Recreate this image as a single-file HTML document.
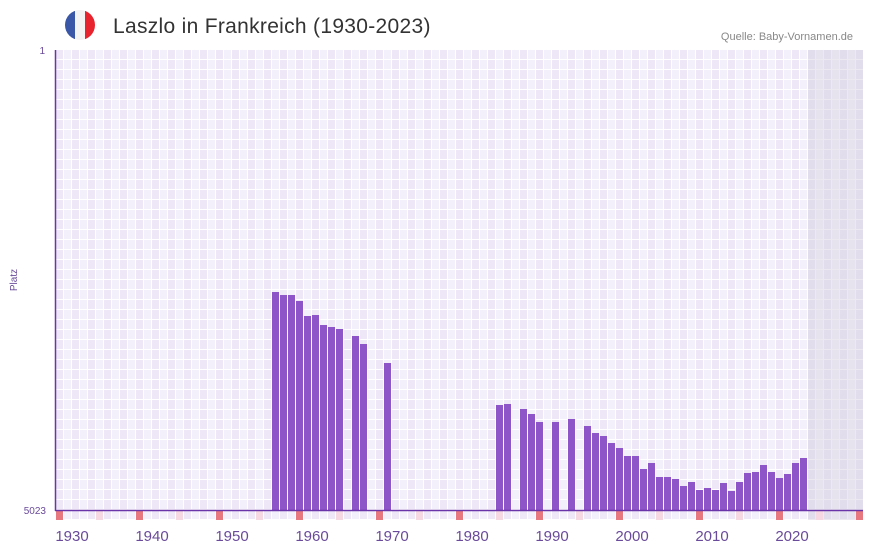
<!DOCTYPE html>
<html><head><meta charset="utf-8"><style>
body{margin:0;background:#fff;}
svg{display:block;font-family:"Liberation Sans","DejaVu Sans",sans-serif;}
</style></head><body>
<svg width="873" height="552" viewBox="0 0 873 552" xmlns="http://www.w3.org/2000/svg">
<defs>
<pattern id="g" x="56" y="50" width="16" height="10" patternUnits="userSpaceOnUse">
<rect x="0" y="0" width="16" height="10" fill="#fff"/>
<rect x="0" y="0" width="7" height="9" fill="#ede7f8"/>
<rect x="8" y="0" width="7" height="9" fill="#f3effb"/>
</pattern>
<pattern id="g2" x="56" y="50" width="16" height="10" patternUnits="userSpaceOnUse">
<rect x="0" y="0" width="16" height="10" fill="#ece9f0"/>
<rect x="0" y="0" width="7" height="9" fill="#e2ddec"/>
<rect x="8" y="0" width="7" height="9" fill="#e6e2ee"/>
</pattern>
<clipPath id="fc"><circle cx="80" cy="25" r="15"/></clipPath>
</defs>
<g clip-path="url(#fc)">
<rect x="65" y="10" width="10" height="30" fill="#3a56a6"/>
<rect x="75" y="10" width="10" height="30" fill="#f3f3f3"/>
<rect x="85" y="10" width="10" height="30" fill="#e8232d"/>
</g>
<text x="113" y="33" font-size="21" letter-spacing="0.3" fill="#333">Laszlo in Frankreich (1930-2023)</text>
<text x="853" y="40" font-size="11" fill="#888" text-anchor="end">Quelle: Baby-Vornamen.de</text>

<rect x="56" y="50" width="807" height="470" fill="url(#g)"/>
<rect x="808" y="50" width="55" height="470" fill="url(#g2)"/>

<g fill="#e87880">
<rect x="56" y="511" width="7" height="9"/><rect x="136" y="511" width="7" height="9"/><rect x="216" y="511" width="7" height="9"/><rect x="296" y="511" width="7" height="9"/><rect x="376" y="511" width="7" height="9"/><rect x="456" y="511" width="7" height="9"/><rect x="536" y="511" width="7" height="9"/><rect x="616" y="511" width="7" height="9"/><rect x="696" y="511" width="7" height="9"/><rect x="776" y="511" width="7" height="9"/><rect x="856" y="511" width="7" height="9"/>
</g>
<g fill="#f5d8e2">
<rect x="96" y="511" width="7" height="9"/><rect x="176" y="511" width="7" height="9"/><rect x="256" y="511" width="7" height="9"/><rect x="336" y="511" width="7" height="9"/><rect x="416" y="511" width="7" height="9"/><rect x="496" y="511" width="7" height="9"/><rect x="576" y="511" width="7" height="9"/><rect x="656" y="511" width="7" height="9"/><rect x="736" y="511" width="7" height="9"/><rect x="816" y="511" width="7" height="9"/>
</g>

<g fill="#8d55c7">
<rect x="272" y="292" width="7" height="218"/>
<rect x="280" y="295" width="7" height="215"/>
<rect x="288" y="295" width="7" height="215"/>
<rect x="296" y="301" width="7" height="209"/>
<rect x="304" y="316" width="7" height="194"/>
<rect x="312" y="315" width="7" height="195"/>
<rect x="320" y="325" width="7" height="185"/>
<rect x="328" y="327" width="7" height="183"/>
<rect x="336" y="329" width="7" height="181"/>
<rect x="352" y="336" width="7" height="174"/>
<rect x="360" y="344" width="7" height="166"/>
<rect x="384" y="363" width="7" height="147"/>
<rect x="496" y="405" width="7" height="105"/>
<rect x="504" y="404" width="7" height="106"/>
<rect x="520" y="409" width="7" height="101"/>
<rect x="528" y="414" width="7" height="96"/>
<rect x="536" y="422" width="7" height="88"/>
<rect x="552" y="422" width="7" height="88"/>
<rect x="568" y="419" width="7" height="91"/>
<rect x="584" y="426" width="7" height="84"/>
<rect x="592" y="433" width="7" height="77"/>
<rect x="600" y="436" width="7" height="74"/>
<rect x="608" y="443" width="7" height="67"/>
<rect x="616" y="448" width="7" height="62"/>
<rect x="624" y="456" width="7" height="54"/>
<rect x="632" y="456" width="7" height="54"/>
<rect x="640" y="469" width="7" height="41"/>
<rect x="648" y="463" width="7" height="47"/>
<rect x="656" y="477" width="7" height="33"/>
<rect x="664" y="477" width="7" height="33"/>
<rect x="672" y="479" width="7" height="31"/>
<rect x="680" y="486" width="7" height="24"/>
<rect x="688" y="482" width="7" height="28"/>
<rect x="696" y="490" width="7" height="20"/>
<rect x="704" y="488" width="7" height="22"/>
<rect x="712" y="490" width="7" height="20"/>
<rect x="720" y="483" width="7" height="27"/>
<rect x="728" y="491" width="7" height="19"/>
<rect x="736" y="482" width="7" height="28"/>
<rect x="744" y="473" width="7" height="37"/>
<rect x="752" y="472" width="7" height="38"/>
<rect x="760" y="465" width="7" height="45"/>
<rect x="768" y="472" width="7" height="38"/>
<rect x="776" y="478" width="7" height="32"/>
<rect x="784" y="474" width="7" height="36"/>
<rect x="792" y="463" width="7" height="47"/>
<rect x="800" y="458" width="7" height="52"/>
</g>

<line x1="55.5" y1="50" x2="55.5" y2="511" stroke="#6a35a8" stroke-width="1.5"/>
<line x1="55" y1="510.5" x2="863" y2="510.5" stroke="#6a35a8" stroke-width="1.5"/>

<text x="45" y="54" font-size="10" fill="#6a4a9a" text-anchor="end">1</text>
<text x="46" y="514" font-size="10" fill="#6a4a9a" text-anchor="end">5023</text>
<text transform="translate(17,280) rotate(-90)" font-size="10" fill="#6a4a9a" text-anchor="middle">Platz</text>

<g font-size="15" fill="#6a4a9a" text-anchor="middle">
<text x="72" y="541">1930</text><text x="152" y="541">1940</text><text x="232" y="541">1950</text><text x="312" y="541">1960</text><text x="392" y="541">1970</text><text x="472" y="541">1980</text><text x="552" y="541">1990</text><text x="632" y="541">2000</text><text x="712" y="541">2010</text><text x="792" y="541">2020</text>
</g>
</svg>
</body></html>
